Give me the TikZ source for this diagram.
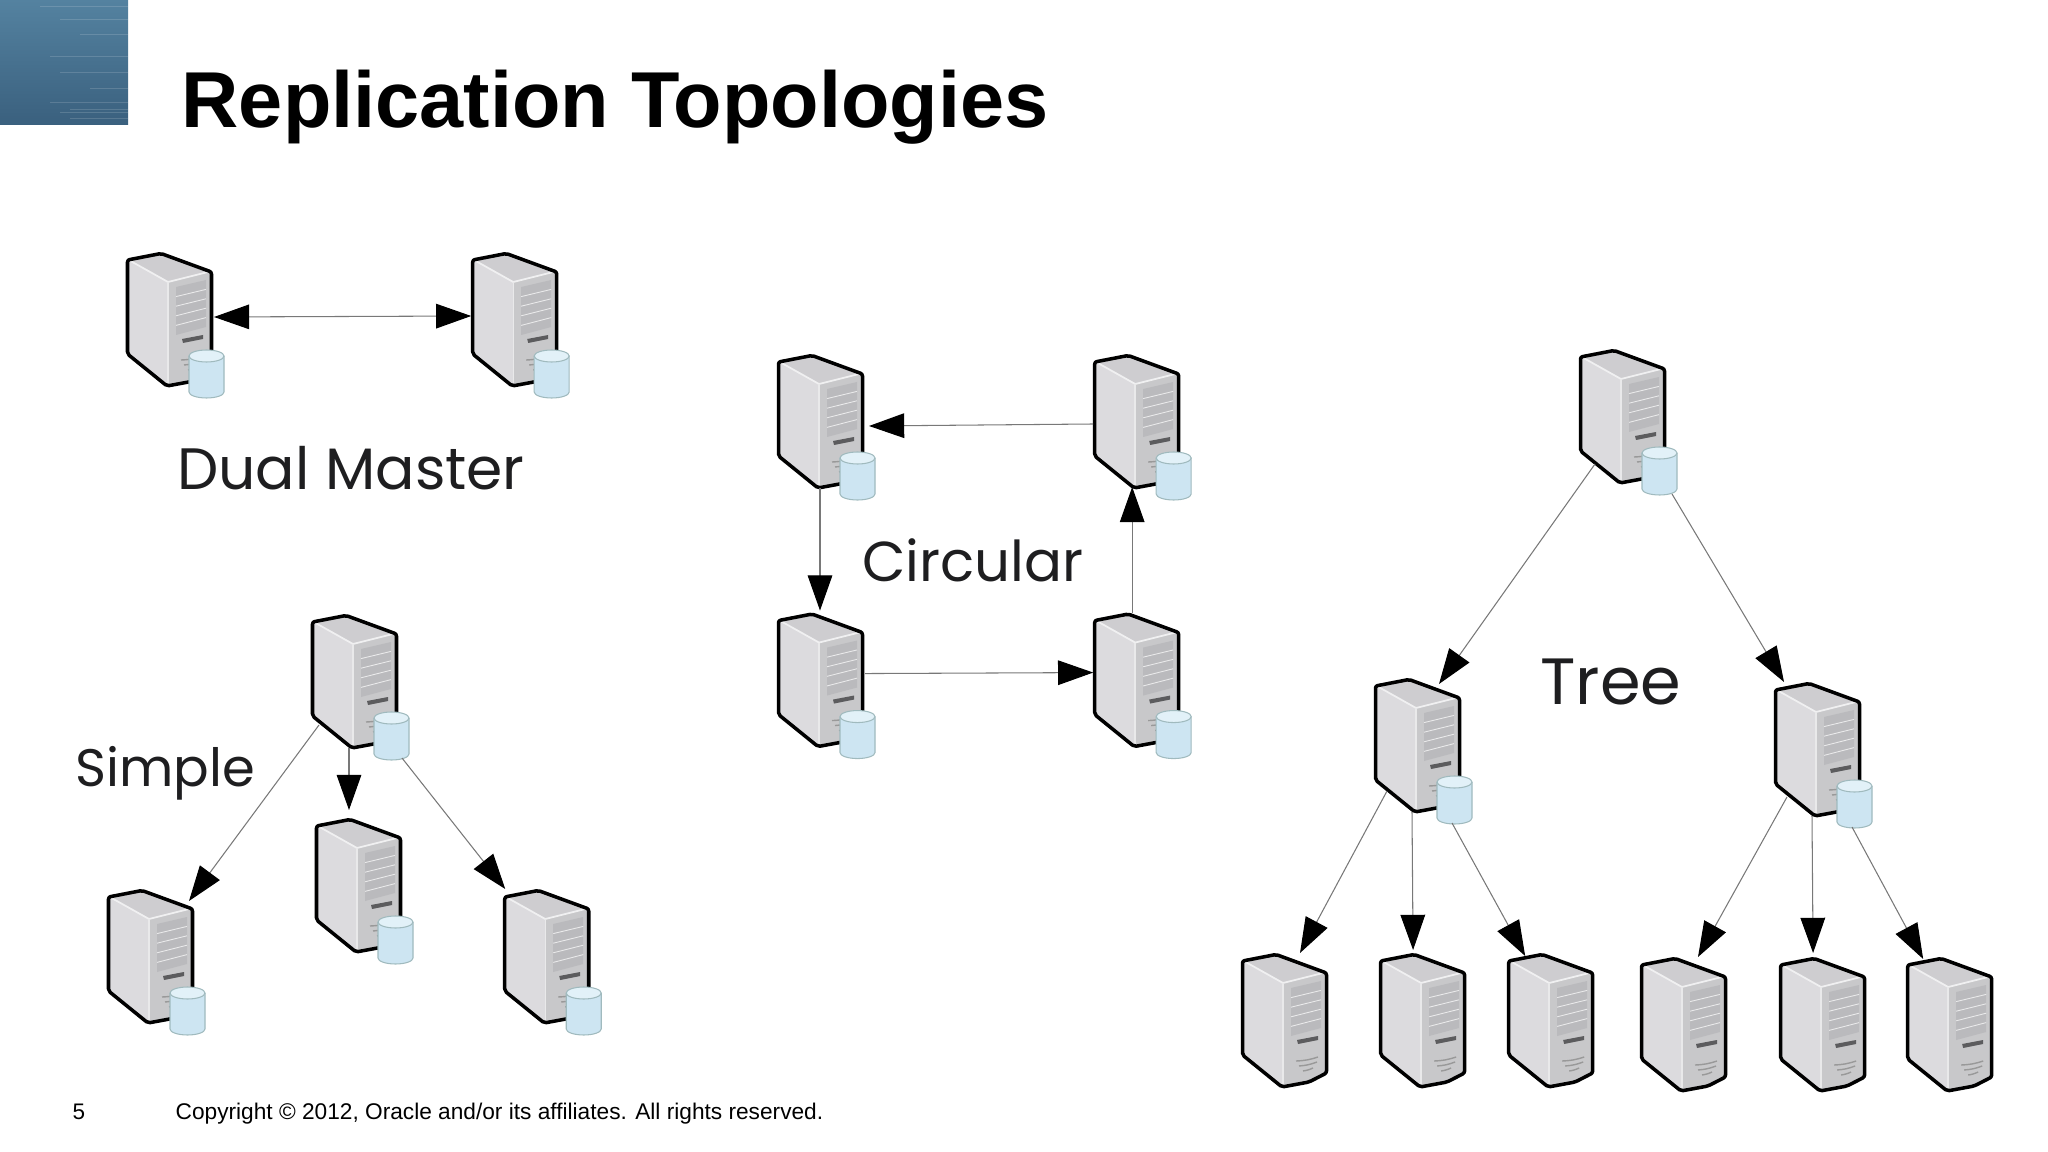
\documentclass[tikz,border=0pt]{standalone}
\usepackage{fontspec}
\setmainfont{Liberation Sans}
\newfontfamily\handfont{Poppins}
\usetikzlibrary{arrows.meta,positioning}
\definecolor{bandTop}{RGB}{84,130,160}
\definecolor{bandLow}{RGB}{58,96,126}
\definecolor{sideGrey}{RGB}{220,219,222}
\definecolor{topGrey}{RGB}{206,205,208}
\definecolor{frontGrey}{RGB}{200,200,202}
\definecolor{bayGrey}{RGB}{186,186,189}
\definecolor{slotGrey}{RGB}{92,92,94}
\definecolor{drumFill}{RGB}{205,229,242}
\definecolor{drumTop}{RGB}{226,241,248}
\definecolor{drumLine}{RGB}{160,186,190}
\definecolor{lineGrey}{RGB}{120,120,120}
\definecolor{handInk}{RGB}{30,30,32}
\tikzset{
  srvbox/.style={anchor=north west, inner sep=0pt, minimum width=0.866cm, minimum height=1.35cm},
  flow/.style={-{Triangle[length=10pt,width=7pt,color=black]}, line width=0.3pt, draw=lineGrey},
  bothflow/.style={{Triangle[length=10pt,width=7pt,color=black]}-{Triangle[length=10pt,width=7pt,color=black]}, line width=0.3pt, draw=lineGrey},
  handtext/.style={text=handInk},
  tower/.pic={
    \fill[sideGrey] (1,7) -- (35,1) -- (42,30) -- (42,134) -- (1,102) -- cycle;
    \fill[topGrey] (1,7) -- (35,1) -- (86,19) -- (42,30) -- cycle;
    \fill[frontGrey] (42,30) -- (86,19) -- (86,120) -- (68,130) -- (42,134) -- cycle;
    \draw[white!70!topGrey, line width=0.5pt] (1,7) -- (42,30) -- (86,19);
    \draw[white!60!frontGrey, line width=0.4pt] (42,30) -- (42,134);
    \fill[bayGrey] (50,35) -- (80,28) -- (80,75) -- (50,83) -- cycle;
    \foreach \k in {1,2,3,4}
      \draw[white!70!bayGrey, line width=0.25pt] (50,35+\k*9.6) -- (80,28+\k*9.4);
    \fill[slotGrey] (56,87) -- (77,83) -- (77,87) -- (57,91) -- cycle;
    \draw[black!40, line width=0.4pt] (55,108) to[bend right=8] (77,104);
    \draw[black!40, line width=0.4pt] (58,113) to[bend right=8] (76,109);
    \draw[black!40, line width=0.4pt] (62,118) to[bend right=8] (72,115);
    \draw[black, line width=1pt, line join=round, rounded corners=0.6pt] (1.5,8) -- (35,1.5) -- (85.5,20) -- (85.5,120) -- (68,129) -- (41,134) -- (1.5,102) -- cycle;
  },
  drum/.pic={
    \draw[drumLine, fill=drumFill, line width=0.3pt] (63,104) -- (63,140) arc[start angle=180, end angle=360, x radius=17.5, y radius=-6] -- (98,104);
    \draw[drumLine, fill=drumTop, line width=0.3pt] (80.5,104) ellipse[x radius=17.5, y radius=6];
  }
}
\begin{document}
\begin{tikzpicture}[x=0.01cm,y=-0.01cm]
  \useasboundingbox (0,0) rectangle (2048,1152);
  % corner band and headings
  \fill[top color=bandTop, bottom color=bandLow] (0,0) rectangle (128,125);
  \foreach \yy/\xa in {6/40,19/60,34/80,56/50,72/60,88/90,102/50,109/70,112/60,118/70}
    \draw[white, opacity=0.15, line width=0.25pt] (\xa,\yy) -- (128,\yy);
  \node[anchor=base west, inner sep=0pt, font=\bfseries\fontsize{22.55}{26}\selectfont] (title) at (181,128) {Replication Topologies};
  \node[anchor=base west, inner sep=0pt, font=\fontsize{6.4}{8}\selectfont] (pageno) at (72,1119) {5};
  \node[anchor=base west, inner sep=0pt, font=\fontsize{6.45}{8}\selectfont] (copyr) at (175,1119) {Copyright © 2012, Oracle and/or its affiliates. All rights reserved.};
  % dual master
  \node[srvbox] (dualA) at (126,252) {};
  \node[srvbox, right=2.57cm of dualA] (dualB) {};
  % circular
  \node[srvbox] (circA) at (777,354) {};
  \node[srvbox, right=2.28cm of circA] (circB) {};
  \node[srvbox, below=1.22cm of circA] (circC) {};
  \node[srvbox, right=2.28cm of circC] (circD) {};
  % simple
  \node[srvbox] (simRoot) at (311,614) {};
  \node[srvbox] (simA) at (107,889) {};
  \node[srvbox] (simB) at (315,818) {};
  \node[srvbox, right=3.08cm of simA] (simC) {};
  % tree
  \node[srvbox] (treeRoot) at (1579,349) {};
  \node[srvbox] (treeL) at (1374,678) {};
  \node[srvbox] (treeR) at (1774,682) {};
  \node[srvbox] (leafA) at (1241,953) {};
  \node[srvbox, right=0.50cm of leafA] (leafB) {};
  \node[srvbox, right=0.40cm of leafB] (leafC) {};
  \node[srvbox] (leafD) at (1640,957) {};
  \node[srvbox, right=0.51cm of leafD] (leafE) {};
  \node[srvbox, right=0.39cm of leafE] (leafF) {};
  \foreach \nm in {dualA,dualB,circA,circB,circC,circD,simRoot,simA,simB,simC,treeRoot,treeL,treeR} {
    \pic at (\nm.north west) {tower};
    \pic at (\nm.north west) {drum};
  }
  \foreach \nm in {leafA,leafB,leafC,leafD,leafE,leafF}
    \pic at (\nm.north west) {tower};
  % labels
  \node[handtext, font=\handfont\fontsize{16.6}{18}\selectfont] (dualText) at (351,468) {Dual Master};
  \node[handtext, font=\handfont\fontsize{16}{18}\selectfont] (circText) at (973,560) {Circular};
  \node[handtext, font=\handfont\fontsize{15}{18}\selectfont] (simText) at (165,773) {Simple};
  \node[handtext, font=\handfont\fontsize{18.6}{20}\selectfont] (treeText) at (1611,682) {Tree};
  % connectors
  \draw[bothflow] ([shift={(88,65)}]dualA.north west) -- ([shift={(0,64)}]dualB.north west);
  \draw[flow] ([shift={(0,70)}]circB.north west) -- ([shift={(92,72)}]circA.north west);
  \draw[flow] ([shift={(43,134)}]circA.north west) -- ([shift={(43,-2)}]circC.north west);
  \draw[flow] ([shift={(88,61)}]circC.north west) -- ([shift={(0,60)}]circD.north west);
  \draw[flow] ([shift={(39,0)}]circD.north west) -- ([shift={(39,133)}]circB.north west);
  \draw[flow] ([shift={(8,111)}]simRoot.north west) -- ([shift={(82,12)}]simA.north west);
  \draw[flow] ([shift={(38,134)}]simRoot.north west) -- ([shift={(34,-8)}]simB.north west);
  \draw[flow] ([shift={(91,144)}]simRoot.north west) -- ([shift={(2,0)}]simC.north west);
  \draw[flow] ([shift={(16,115)}]treeRoot.north west) -- ([shift={(65,6)}]treeL.north west);
  \draw[flow] ([shift={(93,145)}]treeRoot.north west) -- ([shift={(10,0)}]treeR.north west);
  \draw[flow] ([shift={(13,113)}]treeL.north west) -- ([shift={(59,0)}]leafA.north west);
  \draw[flow] ([shift={(38,134)}]treeL.north west) -- ([shift={(34,-3)}]leafB.north west);
  \draw[flow] ([shift={(78,145)}]treeL.north west) -- ([shift={(18,3)}]leafC.north west);
  \draw[flow] ([shift={(13,115)}]treeR.north west) -- ([shift={(58,0)}]leafD.north west);
  \draw[flow] ([shift={(38,134)}]treeR.north west) -- ([shift={(34,-4)}]leafE.north west);
  \draw[flow] ([shift={(78,145)}]treeR.north west) -- ([shift={(17,2)}]leafF.north west);
\end{tikzpicture}
\end{document}
